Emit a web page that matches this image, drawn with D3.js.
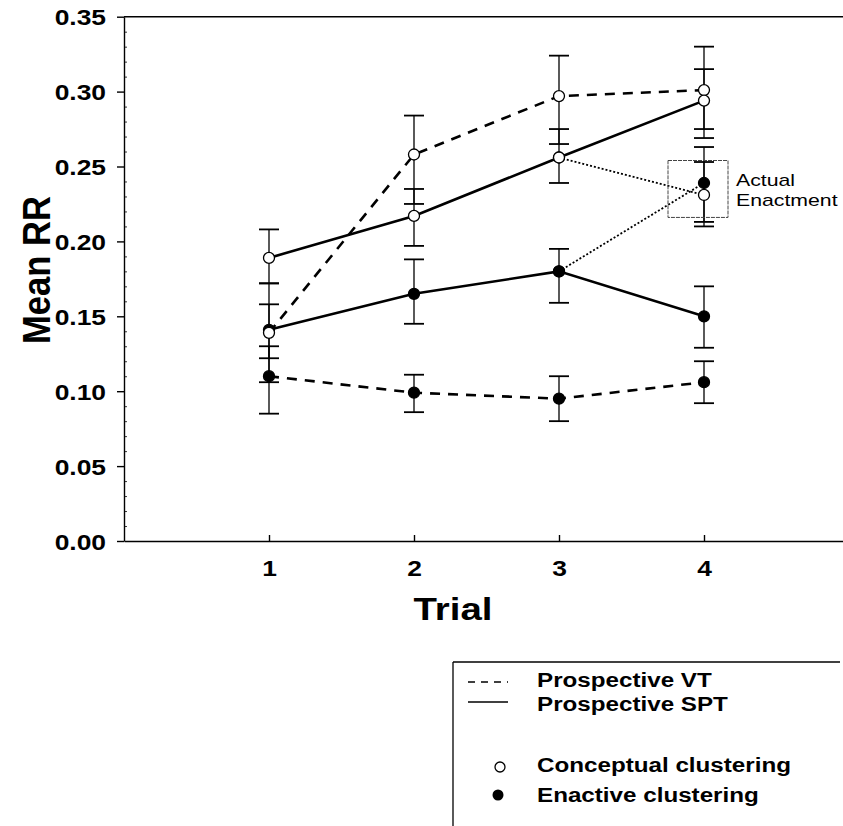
<!DOCTYPE html>
<html>
<head>
<meta charset="utf-8">
<script src="https://cdn.jsdelivr.net/npm/d3@7"></script>
<style>
  body { margin: 0; background: #fff; }
  svg { display: block; font-family: "Liberation Sans", Arial, sans-serif; }
</style>
</head>
<body>
<div id="chart"></div>
<script>
// trials on the x axis
var trials = [1, 2, 3, 4]
var yTicks = [0, 0.05, 0.10, 0.15, 0.20, 0.25, 0.30, 0.35]

// Prospective VT (dashed)
var vtConceptual = [0.139, 0.258, 0.297, 0.301]
var vtConceptualHi = [0.158, 0.284, 0.324, 0.330]
var vtConceptualLo = [0.122, 0.225, 0.265, 0.275]
var vtEnactive = [0.110, 0.099, 0.095, 0.106]
var vtEnactiveHi = [0.130, 0.111, 0.110, 0.120]
var vtEnactiveLo = [0.085, 0.086, 0.080, 0.092]

// Prospective SPT (solid)
var sptConceptual = [0.189, 0.217, 0.256, 0.294]
var sptConceptualHi = [0.208, 0.235, 0.275, 0.315]
var sptConceptualLo = [0.172, 0.197, 0.239, 0.269]
var sptEnactive = [0.141, 0.165, 0.180, 0.150]
var sptEnactiveHi = [0.172, 0.188, 0.195, 0.170]
var sptEnactiveLo = [0.106, 0.145, 0.159, 0.129]

// Actual enactment (dotted, from trial 3 to trial 4)
var actualTrials = [3, 4]
var actualConceptual = [0.256, 0.231]
var actualConceptualHi = [null, 0.253]
var actualConceptualLo = [null, 0.210]
var actualEnactive = [0.180, 0.239]
var actualEnactiveHi = [null, 0.263]
var actualEnactiveLo = [null, 0.213]

var legendLines = ["Prospective VT", "Prospective SPT"]
var legendMarks = ["Conceptual clustering", "Enactive clustering"]

function makeSeries(t, v, hi, lo, style, open) {
	return {
		style: style,
		open: open,
		points: t.map(function(d, i) {
			return { t: d, v: v[i], hi: hi[i], lo: lo[i] }
		})
	}
}

var series = [
	makeSeries(trials, vtEnactive, vtEnactiveHi, vtEnactiveLo, "dash", false),
	makeSeries(trials, sptEnactive, sptEnactiveHi, sptEnactiveLo, "solid", false),
	makeSeries(trials, vtConceptual, vtConceptualHi, vtConceptualLo, "dash", true),
	makeSeries(trials, sptConceptual, sptConceptualHi, sptConceptualLo, "solid", true),
	makeSeries(actualTrials, actualConceptual, actualConceptualHi, actualConceptualLo, "dot", true),
	makeSeries(actualTrials, actualEnactive, actualEnactiveHi, actualEnactiveLo, "dot", false)
]

var width = 843
var height = 826

var svg = d3.select("#chart")
	.append("svg")
	.attr("width", width)
	.attr("height", height)

var x = d3.scaleLinear().domain([0, 5]).range([124, 849])
var y = d3.scaleLinear().domain([0, 0.35]).range([541, 16.7])

// text helper: the scanned figure is stretched sideways
function label(g, str, px, py, size, weight, anchor, sx) {
	return g.append("text")
		.attr("transform", "translate(" + px + "," + py + ") scale(" + sx + ",1)")
		.attr("text-anchor", anchor)
		.style("font-size", size + "px")
		.style("font-weight", weight)
		.attr("fill", "#000")
		.text(str)
}

// y axis
var yAxis = svg.append("g")
	.attr("transform", "translate(" + x(0) + ",0)")
	.call(d3.axisLeft(y).tickValues(yTicks).tickSizeInner(7).tickSizeOuter(0).tickFormat(d3.format(".2f")))
yAxis.selectAll("path, line").attr("stroke", "#000").attr("stroke-width", 1.4)
yAxis.selectAll("text")
	.attr("x", null).attr("dy", null)
	.attr("transform", "translate(-18,8) scale(1.2,1)")
	.style("font-size", "22px")
	.style("font-weight", "bold")
	.style("font-family", '"Liberation Sans", Arial, sans-serif')
	.attr("fill", "#000")

// minor ticks on y
svg.append("g")
	.attr("transform", "translate(" + x(0) + ",0)")
	.call(d3.axisRight(y).tickValues(d3.range(1, 35).filter(function(d) { return d % 5 != 0 }).map(function(d) { return d / 100 }))
		.tickSize(3).tickFormat(""))
	.call(function(g) { g.select(".domain").remove() })
	.selectAll("line").attr("stroke", "#000").attr("stroke-width", 0.8)

// x axis
var xAxis = svg.append("g")
	.attr("transform", "translate(0," + y(0) + ")")
	.call(d3.axisBottom(x).tickValues(trials).tickSizeInner(-6).tickSizeOuter(0).tickFormat(d3.format("d")))
xAxis.selectAll("path, line").attr("stroke", "#000").attr("stroke-width", 1.4)
xAxis.selectAll("text")
	.attr("y", null).attr("dy", null)
	.attr("transform", "translate(0,35) scale(1.2,1)")
	.style("font-size", "22px")
	.style("font-weight", "bold")
	.style("font-family", '"Liberation Sans", Arial, sans-serif')
	.attr("fill", "#000")

// top frame line
svg.append("line")
	.attr("x1", x(0)).attr("x2", width)
	.attr("y1", y(0.35)).attr("y2", y(0.35))
	.attr("stroke", "#000").attr("stroke-width", 1.4)

// axis titles
label(svg, "Trial", 453, 620, 32, "bold", "middle", 1.2)
svg.append("text")
	.attr("transform", "translate(50,270) rotate(-90) scale(1.05,1.15)")
	.attr("text-anchor", "middle")
	.style("font-size", "33px")
	.style("font-weight", "bold")
	.text("Mean RR")

// error bars
var capHalf = 10
series.forEach(function(s) {
	var pts = s.points.filter(function(d) { return d.hi != null })
	var g = svg.append("g").attr("stroke", "#000")
	g.selectAll(".bar").data(pts).enter().append("line")
		.attr("x1", function(d) { return x(d.t) }).attr("x2", function(d) { return x(d.t) })
		.attr("y1", function(d) { return y(d.hi) }).attr("y2", function(d) { return y(d.lo) })
		.attr("stroke-width", 1.3)
	g.selectAll(".capHi").data(pts).enter().append("line")
		.attr("x1", function(d) { return x(d.t) - capHalf }).attr("x2", function(d) { return x(d.t) + capHalf })
		.attr("y1", function(d) { return y(d.hi) }).attr("y2", function(d) { return y(d.hi) })
		.attr("stroke-width", 1.8)
	g.selectAll(".capLo").data(pts).enter().append("line")
		.attr("x1", function(d) { return x(d.t) - capHalf }).attr("x2", function(d) { return x(d.t) + capHalf })
		.attr("y1", function(d) { return y(d.lo) }).attr("y2", function(d) { return y(d.lo) })
		.attr("stroke-width", 1.8)
})

// lines
var line = d3.line()
	.x(function(d) { return x(d.t) })
	.y(function(d) { return y(d.v) })

series.forEach(function(s) {
	var p = svg.append("path")
		.datum(s.points)
		.attr("d", line)
		.attr("fill", "none")
		.attr("stroke", "#000")
	if (s.style == "dash") p.attr("stroke-width", 2.6).attr("stroke-dasharray", "10,8")
	else if (s.style == "dot") p.attr("stroke-width", 1.8).attr("stroke-dasharray", "2,2")
	else p.attr("stroke-width", 2.6)
})

// markers
series.forEach(function(s) {
	svg.append("g").selectAll("circle")
		.data(s.points)
		.enter()
		.append("circle")
		.attr("cx", function(d) { return x(d.t) })
		.attr("cy", function(d) { return y(d.v) })
		.attr("r", 5.5)
		.attr("fill", s.open ? "#fff" : "#000")
		.attr("stroke", "#000")
		.attr("stroke-width", 1.3)
})

// actual enactment box
svg.append("rect")
	.attr("x", x(4) - 36).attr("y", y(0.254))
	.attr("width", 60).attr("height", y(0.216) - y(0.254))
	.attr("fill", "none")
	.attr("stroke", "#444")
	.attr("stroke-width", 1)
	.attr("stroke-dasharray", "4,1")
label(svg, "Actual", 736, 186, 17, "normal", "start", 1.25)
label(svg, "Enactment", 736, 206, 17, "normal", "start", 1.25)

// legend
var legend = svg.append("g")
legend.append("line").attr("x1", 453).attr("x2", 840).attr("y1", 662).attr("y2", 662)
	.attr("stroke", "#000").attr("stroke-width", 1.3)
legend.append("line").attr("x1", 453).attr("x2", 453).attr("y1", 662).attr("y2", height)
	.attr("stroke", "#000").attr("stroke-width", 1.3)

legend.append("line").attr("x1", 468).attr("x2", 508).attr("y1", 682).attr("y2", 682)
	.attr("stroke", "#000").attr("stroke-width", 1.5).attr("stroke-dasharray", "7,6")
legend.append("line").attr("x1", 468).attr("x2", 508).attr("y1", 702).attr("y2", 702)
	.attr("stroke", "#000").attr("stroke-width", 1.5)
legend.append("circle").attr("cx", 500).attr("cy", 767).attr("r", 5)
	.attr("fill", "#fff").attr("stroke", "#000").attr("stroke-width", 1.3)
legend.append("circle").attr("cx", 498).attr("cy", 795).attr("r", 5.5)
	.attr("fill", "#000")

label(legend, legendLines[0], 537, 687, 20, "bold", "start", 1.21)
label(legend, legendLines[1], 537, 711, 20, "bold", "start", 1.21)
label(legend, legendMarks[0], 537, 772, 20, "bold", "start", 1.21)
label(legend, legendMarks[1], 537, 802, 20, "bold", "start", 1.21)
</script>
</body>
</html>
